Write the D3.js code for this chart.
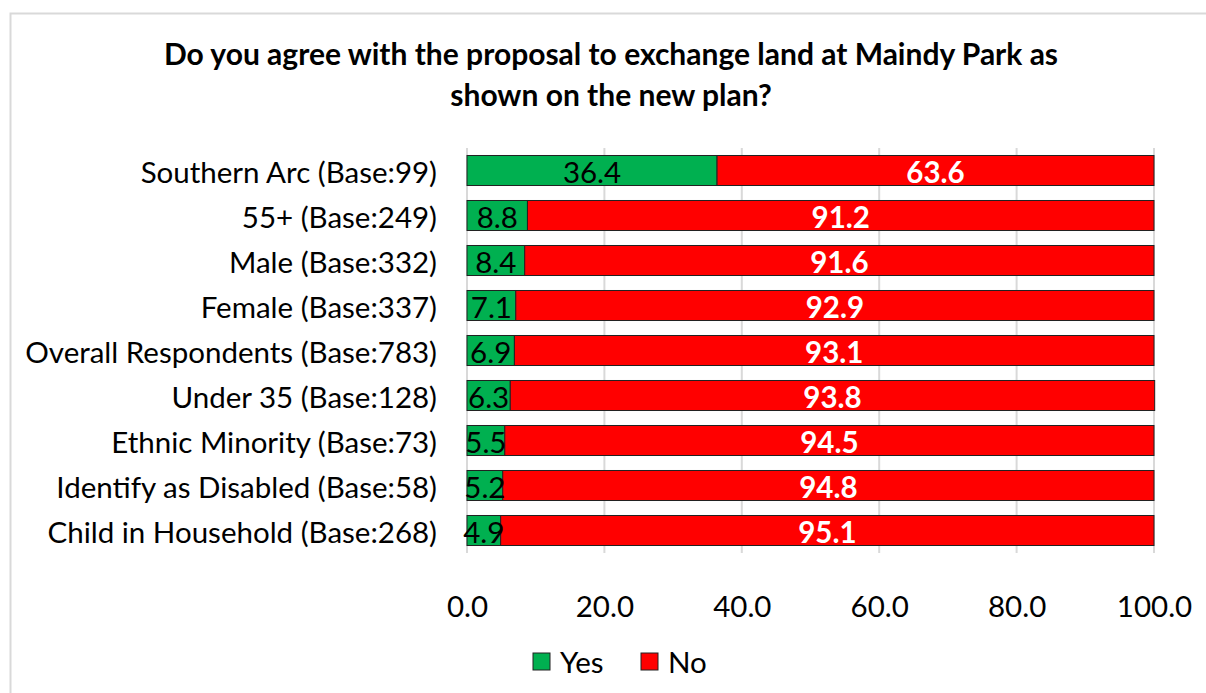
<!DOCTYPE html>
<html>
<head>
<meta charset="utf-8">
<script src="https://cdn.jsdelivr.net/npm/d3@7"></script>
<style>
  body { margin: 0; background: #fff; }
  text { font-family: Lato, "Open Sans", sans-serif; }
</style>
</head>
<body>
<div id="chart"></div>
<script>
const categories = [
  'Southern Arc (Base:99)',
  '55+ (Base:249)',
  'Male (Base:332)',
  'Female (Base:337)',
  'Overall Respondents (Base:783)',
  'Under 35 (Base:128)',
  'Ethnic Minority (Base:73)',
  'Identify as Disabled (Base:58)',
  'Child in Household (Base:268)'
];
const yesValues = [36.4, 8.8, 8.4, 7.1, 6.9, 6.3, 5.5, 5.2, 4.9];
const noValues = [63.6, 91.2, 91.6, 92.9, 93.1, 93.8, 94.5, 94.8, 95.1];
const xTicks = [0, 20, 40, 60, 80, 100];
const seriesNames = ['Yes', 'No'];
const seriesColors = ['#00B050', '#FF0000'];

const width = 1206, height = 693;
const plotLeft = 467, plotRight = 1154, plotTop = 148, plotBottom = 553;
const fontSize = '29.5px';

const svg = d3.select('#chart').append('svg')
  .attr('width', width)
  .attr('height', height);

// chart frame
svg.append('rect')
  .attr('x', 10.5).attr('y', 13.5)
  .attr('width', 1220).attr('height', 700)
  .attr('fill', 'none')
  .attr('stroke', '#d9d9d9')
  .attr('stroke-width', 2);

// title
svg.append('text')
  .attr('x', 611).attr('y', 0)
  .attr('text-anchor', 'middle')
  .style('font-weight', 'bold')
  .style('font-size', '30px')
  .selectAll('tspan')
  .data(['Do you agree with the proposal to exchange land at Maindy Park as', 'shown on the new plan?'])
  .join('tspan')
  .attr('x', 611)
  .attr('y', (d, i) => 65 + i * 41)
  .text(d => d);

const x = d3.scaleLinear().domain([0, 100]).range([plotLeft, plotRight]);
const y = d3.scaleBand().domain(categories).range([plotTop, plotBottom]).paddingInner(0.333).paddingOuter(0.1665);

// gridlines
svg.append('g')
  .selectAll('line')
  .data(xTicks)
  .join('line')
  .attr('x1', d => x(d)).attr('x2', d => x(d))
  .attr('y1', plotTop).attr('y2', plotBottom)
  .attr('stroke', '#d9d9d9')
  .attr('stroke-width', 2);

// x tick labels
const xAxis = svg.append('g')
  .attr('transform', `translate(0,${plotBottom})`)
  .call(d3.axisBottom(x).tickValues(xTicks).tickFormat(d3.format('.1f')).tickSize(0).tickPadding(43));
xAxis.select('.domain').remove();
xAxis.selectAll('text')
  .style('font-family', 'Lato, "Open Sans", sans-serif')
  .style('font-size', fontSize)
  .attr('fill', '#000');

// category labels
const yAxis = svg.append('g')
  .attr('transform', `translate(${plotLeft},0)`)
  .call(d3.axisLeft(y).tickSize(0).tickPadding(30));
yAxis.select('.domain').remove();
yAxis.selectAll('text')
  .style('font-family', 'Lato, "Open Sans", sans-serif')
  .style('font-size', fontSize)
  .attr('dy', '0.44em')
  .attr('fill', '#000');

const rows = categories.map((c, i) => ({ cat: c, yes: yesValues[i], no: noValues[i] }));

// yes segments
svg.append('g')
  .selectAll('rect')
  .data(rows)
  .join('rect')
  .attr('x', x(0))
  .attr('y', d => y(d.cat))
  .attr('width', d => x(d.yes) - x(0))
  .attr('height', y.bandwidth())
  .attr('fill', seriesColors[0])
  .attr('stroke', '#222')
  .attr('stroke-width', 1);

// no segments
svg.append('g')
  .selectAll('rect')
  .data(rows)
  .join('rect')
  .attr('x', d => x(d.yes))
  .attr('y', d => y(d.cat))
  .attr('width', d => x(d.yes + d.no) - x(d.yes))
  .attr('height', y.bandwidth())
  .attr('fill', seriesColors[1])
  .attr('stroke', '#222')
  .attr('stroke-width', 1);

// labels
svg.append('g')
  .selectAll('text')
  .data(rows)
  .join('text')
  .attr('x', d => (x(0) + x(d.yes)) / 2)
  .attr('y', d => y(d.cat) + y.bandwidth() / 2)
  .attr('dy', '0.44em')
  .attr('text-anchor', 'middle')
  .style('font-size', fontSize)
  .attr('fill', '#000')
  .text(d => d.yes.toFixed(1));

svg.append('g')
  .selectAll('text')
  .data(rows)
  .join('text')
  .attr('x', d => (x(d.yes) + x(d.yes + d.no)) / 2)
  .attr('y', d => y(d.cat) + y.bandwidth() / 2)
  .attr('dy', '0.44em')
  .attr('text-anchor', 'middle')
  .style('font-size', fontSize)
  .style('font-weight', 'bold')
  .attr('fill', '#fff')
  .text(d => d.no.toFixed(1));

// legend
const legend = svg.append('g');
const legendX = [533, 641];
seriesNames.forEach((name, i) => {
  legend.append('rect')
    .attr('x', legendX[i]).attr('y', 653)
    .attr('width', 17).attr('height', 17)
    .attr('fill', seriesColors[i])
    .attr('stroke', '#222')
    .attr('stroke-width', 1);
  legend.append('text')
    .attr('x', legendX[i] + 27).attr('y', 662)
    .attr('dy', '0.36em')
    .style('font-size', fontSize)
    .text(name);
});
</script>
</body>
</html>
